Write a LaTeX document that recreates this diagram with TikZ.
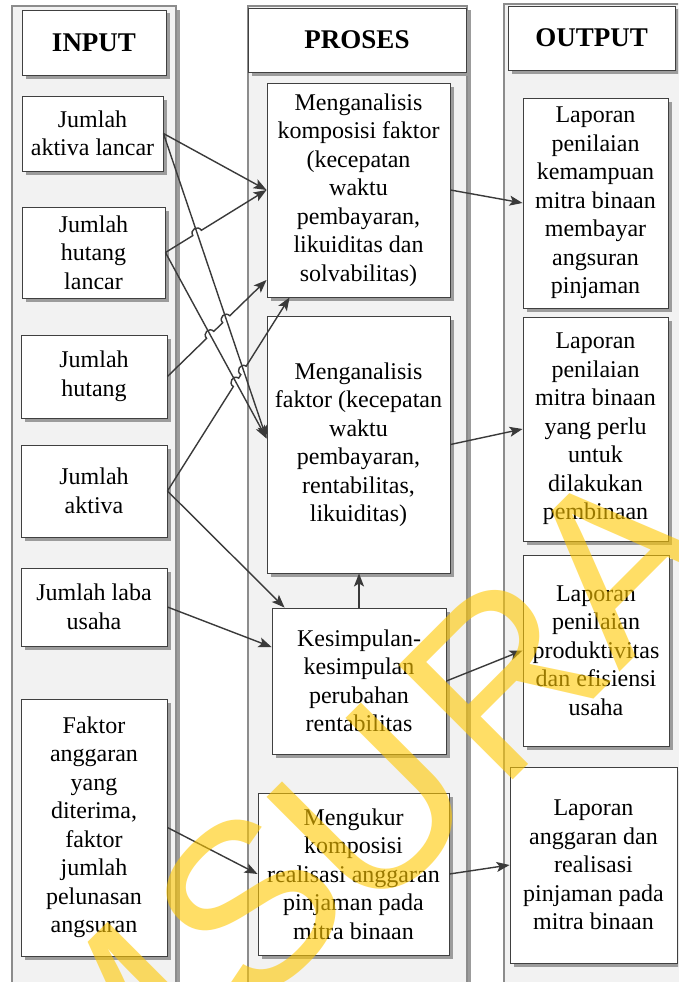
\documentclass[tikz,border=0pt]{standalone}
\usepackage{fontspec}
\setmainfont{Liberation Serif}
\newfontfamily\wmfont{Liberation Sans}
\usetikzlibrary{arrows.meta,calc,intersections,shadows}

\definecolor{lanefill}{HTML}{F2F2F2}
\definecolor{laneline}{HTML}{8C8C8C}
\definecolor{boxline}{HTML}{404040}
\definecolor{shadowgray}{HTML}{9C9C9C}
\definecolor{linkcol}{HTML}{3A3A3A}
\definecolor{wmyellow}{RGB}{255,200,0}

\tikzset{
  lane/.style={draw=laneline, line width=1.6pt, fill=lanefill,
    drop shadow={shadow xshift=4pt, shadow yshift=-4pt, fill=shadowgray, opacity=1}},
  box/.style={draw=boxline, line width=0.9pt, fill=white, align=center, inner sep=2pt,
    font=\fontsize{24}{28.5}\selectfont,
    drop shadow={shadow xshift=3.5pt, shadow yshift=-3.5pt, fill=shadowgray, opacity=1}},
  head/.style={box, font=\fontsize{27}{30}\selectfont\bfseries},
  link/.style={draw=linkcol, line width=1.4pt, -{Stealth[length=13pt,width=10pt,inset=3pt]}},
  jump/.style={bend left=90, looseness=1.7},
  wm/.style={text=wmyellow, opacity=0.6, inner sep=0pt, rotate=45,
    font=\wmfont\fontsize{235}{235}\selectfont},
}

\begin{document}
\begin{tikzpicture}[x=1pt,y=-1pt]
\useasboundingbox (0,0) rectangle (678,982);
\fill[white] (0,0) rectangle (678,982);
\clip (0,0) rectangle (678,982);

% swimlanes
\path[lane] (12,6) rectangle (176,1000);
\path[lane] (248,6) rectangle (467,1000);
\path[lane] (504,4) rectangle (700,1000);

% headers
\node[head, minimum width=144pt, minimum height=65pt] (hin)  at (94,42.5) {INPUT};
\node[head, minimum width=218pt, minimum height=64pt] (hpr)  at (357,40)  {PROSES};
\node[head, minimum width=167pt, minimum height=64pt] (hout) at (591.5,38) {OUTPUT};

% input column
\node[box, minimum width=141pt, minimum height=75pt]  (a1) at (92.5,133.5) {Jumlah\\aktiva lancar};
\node[box, minimum width=143pt, minimum height=91pt]  (a2) at (93.5,252.5) {Jumlah\\hutang\\lancar};
\node[box, minimum width=146pt, minimum height=83pt]  (a3) at (94,376.5)   {Jumlah\\hutang};
\node[box, minimum width=146pt, minimum height=92pt]  (a4) at (94,491)     {Jumlah\\aktiva};
\node[box, minimum width=146pt, minimum height=78pt]  (a5) at (94,607)     {Jumlah laba\\usaha};
\node[box, minimum width=146pt, minimum height=257pt] (a6) at (94,827.5)   {Faktor\\anggaran\\yang\\diterima,\\faktor\\jumlah\\pelunasan\\angsuran};

% process column
\node[box, minimum width=183pt, minimum height=214pt] (p1) at (358.5,190) {Menganalisis\\komposisi faktor\\(kecepatan\\waktu\\pembayaran,\\likuiditas dan\\solvabilitas)};
\node[box, minimum width=183pt, minimum height=257pt] (p2) at (358.5,444.5) {Menganalisis\\faktor (kecepatan\\waktu\\pembayaran,\\rentabilitas,\\likuiditas)};
\node[box, minimum width=174pt, minimum height=146pt] (p3) at (359,681) {Kesimpulan-\\kesimpulan\\perubahan\\rentabilitas};
\node[box, minimum width=191pt, minimum height=162pt] (p4) at (353.5,874) {Mengukur\\komposisi\\realisasi anggaran\\pinjaman pada\\mitra binaan};

% output column
\node[box, minimum width=145pt, minimum height=210pt] (o1) at (595.5,203) {Laporan\\penilaian\\kemampuan\\mitra binaan\\membayar\\angsuran\\pinjaman};
\node[box, minimum width=145pt, minimum height=224pt] (o2) at (595.5,429) {Laporan\\penilaian\\mitra binaan\\yang perlu\\untuk\\dilakukan\\pembinaan};
\node[box, minimum width=146pt, minimum height=191pt] (o3) at (596,650.5) {Laporan\\penilaian\\produktivitas\\dan efisiensi\\usaha};
\node[box, minimum width=167pt, minimum height=196pt] (o4) at (593.5,865) {Laporan\\anggaran dan\\realisasi\\pinjaman pada\\mitra binaan};

% connector end points on the process boxes
\coordinate (p1low) at ([yshift=-90pt]p1.west);
\coordinate (p1bot) at ([xshift=23pt]p1.south west);
\coordinate (p2in)  at ([yshift=6pt]p2.west);
\coordinate (p3top) at ([xshift=13pt]p3.north west);
\coordinate (p3in)  at ([yshift=34pt]p3.west);

% straight connectors
\draw[link] (a1.east) -- (p1.west);
\draw[link, name path=l1p2] (a1.east) -- (p2in);
\draw[link, name path=l2p2] (a2.east) -- (p2in);
\draw[link] (a4.east) -- (p3top);
\draw[link] (a5.east) -- (p3in);
\draw[link] (a6.east) -- (p4.west);
\draw[link] (p3.north) -- (p3.north |- p2.south);

% connectors that hop over the crossing lines
\path[name path=l2p1] (a2.east) -- (p1.west);
\path[name intersections={of=l1p2 and l2p1, by=j21}];
\draw[link] (a2.east) -- ($(j21)!5pt!(a2.east)$) to[jump] ($(j21)!5pt!(p1.west)$) -- (p1.west);

\path[name path=l3p1] (a3.east) -- (p1low);
\path[name intersections={of=l2p2 and l3p1, by=j32}];
\path[name intersections={of=l1p2 and l3p1, by=j31}];
\draw[link] (a3.east) -- ($(j32)!5pt!(a3.east)$) to[jump] ($(j32)!5pt!(p1low)$)
  -- ($(j31)!5pt!(a3.east)$) to[jump] ($(j31)!5pt!(p1low)$) -- (p1low);

\path[name path=l4p1] (a4.east) -- (p1bot);
\path[name intersections={of=l2p2 and l4p1, by=j42}];
\path[name intersections={of=l1p2 and l4p1, by=j41}];
\draw[link] (a4.east) -- ($(j42)!5pt!(a4.east)$) to[jump] ($(j42)!5pt!(p1bot)$)
  -- ($(j41)!5pt!(a4.east)$) to[jump] ($(j41)!5pt!(p1bot)$) -- (p1bot);

% process to output
\draw[link] (p1.east) -- (o1.west);
\draw[link] (p2.east) -- (o2.west);
\draw[link] (p3.east) -- (o3.west);
\draw[link] (p4.east) -- (o4.west);

% watermark
\node[wm] (wm1) at (110,1035) {M};
\node[wm] (wm2) at (250,905) {S};
\node[wm] (wm3) at (372,808) {U};
\node[wm] (wm4) at (502,676) {R};
\node[wm] (wm5) at (618,560) {A};
\end{tikzpicture}
\end{document}
